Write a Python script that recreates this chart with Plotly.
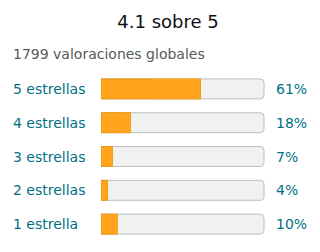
import plotly.graph_objects as go

labels = ["5 estrellas", "4 estrellas", "3 estrellas", "2 estrellas", "1 estrella"]
percents = [61, 18, 7, 4, 10]
pct_text = ["61%", "18%", "7%", "4%", "10%"]
title_text = "4.1 sobre 5"
subtitle_text = "1799 valoraciones globales"

FONT = "DejaVu Sans"
TEAL = "#007185"
ORANGE = "#FFA41C"

fig = go.Figure()
# track
fig.add_trace(go.Bar(
    y=labels, x=[100] * len(labels), orientation="h", width=0.59,
    marker=dict(color="#F0F2F2", line=dict(color="#BBBFBF", width=1), cornerradius=4),
    hoverinfo="skip", showlegend=False))
# orange rounded piece
fig.add_trace(go.Bar(
    y=labels, x=percents, orientation="h", width=0.59,
    marker=dict(color=ORANGE, line=dict(color="#E8960F", width=1), cornerradius=4),
    hoverinfo="skip", showlegend=False))
# orange square right half
fig.add_trace(go.Bar(
    y=labels, x=[p / 2 for p in percents], base=[p / 2 for p in percents],
    orientation="h", width=0.59,
    marker=dict(color=ORANGE, line=dict(color="#E8960F", width=0), cornerradius=0),
    hoverinfo="skip", showlegend=False))

annotations = []
for lab, t in zip(labels, pct_text):
    annotations.append(dict(xref="paper", x=0, xshift=-90, y=lab, yref="y",
                            text=lab, xanchor="left", yanchor="middle", showarrow=False,
                            font=dict(family=FONT, size=14, color=TEAL)))
    annotations.append(dict(xref="x", x=100, xshift=10, y=lab, yref="y",
                            text=t, xanchor="left", yanchor="middle", showarrow=False,
                            font=dict(family=FONT, size=14, color=TEAL)))
annotations.append(dict(xref="paper", x=0, xshift=-90, yref="paper", y=1, yshift=18,
                        text=subtitle_text, xanchor="left", yanchor="middle", showarrow=False,
                        font=dict(family=FONT, size=14, color="#565959")))

fig.update_layout(
    width=320, height=252,
    margin=dict(l=101, r=55, t=72, b=11),
    paper_bgcolor="white", plot_bgcolor="white",
    barmode="overlay",
    title=dict(text=title_text, x=168 / 320, xanchor="center", xref="container",
               y=1 - 22 / 252, yanchor="middle", yref="container",
               font=dict(family=FONT, size=18, color="#0F1111")),
    xaxis=dict(range=[0, 100.6], visible=False, fixedrange=True),
    yaxis=dict(categoryorder="array", categoryarray=labels[::-1], range=[-0.5, 4.5],
               visible=False, fixedrange=True),
    annotations=annotations,
    font=dict(family=FONT),
)

fig.write_html("out.html", config={"displayModeBar": False})
